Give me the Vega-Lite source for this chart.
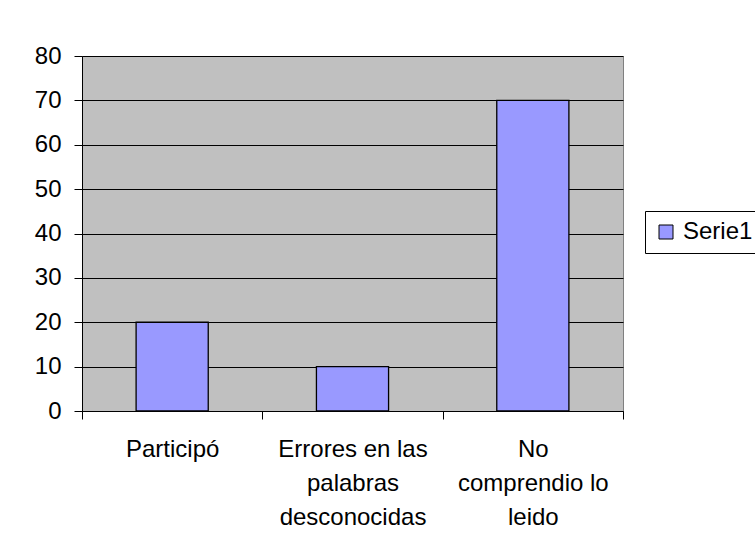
{
  "$schema": "https://vega.github.io/schema/vega-lite/v6.json",
  "autosize": {"type": "none"},
  "width": 541,
  "height": 355,
  "padding": {"left": 82, "top": 56, "right": 132, "bottom": 146},
  "background": "white",
  "data": {"values": [
    {"categoria": "Participó", "valor": 20, "serie": "Serie1"},
    {"categoria": "Errores en las palabras desconocidas", "valor": 10, "serie": "Serie1"},
    {"categoria": "No comprendio lo leido", "valor": 70, "serie": "Serie1"}
  ]},
  "mark": {"type": "bar", "width": {"band": 0.4}, "stroke": "black", "strokeWidth": 1.3},
  "encoding": {
    "x": {
      "field": "categoria", "type": "nominal", "sort": null, "title": null,
      "scale": {"paddingInner": 0, "paddingOuter": 0},
      "axis": {
        "labelAngle": 0, "tickBand": "extent", "grid": false,
        "domainColor": "black", "tickColor": "black", "tickSize": 8,
        "labelFont": "Liberation Sans", "labelFontSize": 24, "labelColor": "black",
        "labelLineHeight": 34, "labelPadding": 18, "labelLimit": 0,
        "labelExpr": "datum.label == 'Errores en las palabras desconocidas' ? ['Errores en las', 'palabras', 'desconocidas'] : datum.label == 'No comprendio lo leido' ? ['No', 'comprendio lo', 'leido'] : datum.label"
      }
    },
    "y": {
      "field": "valor", "type": "quantitative", "title": null,
      "scale": {"domain": [0, 80], "nice": false},
      "axis": {
        "values": [0, 10, 20, 30, 40, 50, 60, 70, 80],
        "grid": true, "gridColor": "black", "gridOpacity": 1,
        "domainColor": "black", "tickColor": "black", "tickSize": 8,
        "labelFont": "Liberation Sans", "labelFontSize": 24, "labelColor": "black",
        "labelPadding": 13
      }
    },
    "color": {
      "field": "serie", "type": "nominal", "title": null,
      "scale": {"range": ["#9999FF"]},
      "legend": {
        "orient": "none", "legendX": 563, "legendY": 155,
        "fillColor": "white", "strokeColor": "black", "padding": 9,
        "symbolType": "square", "symbolSize": 196, "symbolStrokeColor": "black",
        "symbolStrokeWidth": 1, "symbolOpacity": 1,
        "labelFont": "Liberation Sans", "labelFontSize": 24, "labelColor": "black",
        "labelOffset": 5,
        "labelExpr": "datum.label + '          '"
      }
    }
  },
  "config": {
    "view": {"fill": "#C0C0C0", "stroke": "#808080", "strokeWidth": 1}
  }
}
